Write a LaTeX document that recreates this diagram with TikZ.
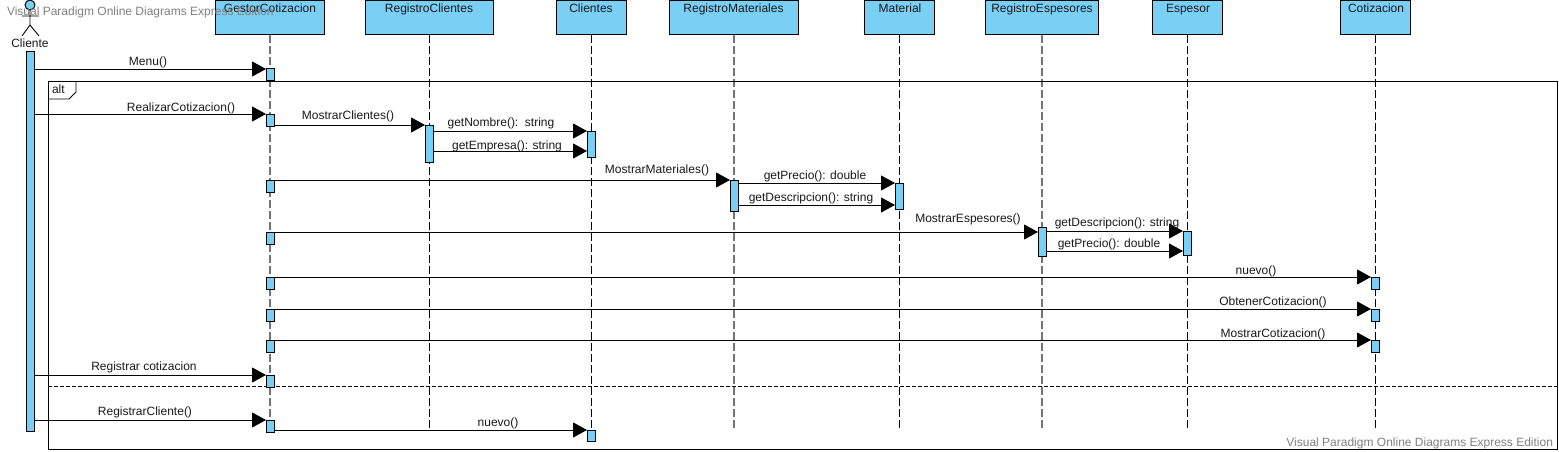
\documentclass[tikz,border=0pt]{standalone}
\usepackage{fontspec}
\setmainfont{Liberation Sans}
\usetikzlibrary{arrows.meta,calc}
\definecolor{vpblue}{RGB}{122,207,245}
\tikzset{
 x=1pt,y=-1pt,
 every node/.style={inner sep=0pt,outer sep=0pt,font=\fontsize{12}{14}\selectfont,text=black!90},
 objbox/.style={draw=black,line width=1pt,fill=vpblue,anchor=north west,minimum height=34pt},
 objlabel/.style={anchor=base},
 act/.style={draw=black,line width=1pt,fill=vpblue,minimum width=8pt,anchor=north},
 lifeline/.style={draw=black,line width=0.9pt,dash pattern=on 8pt off 3pt},
 lifelinegray/.style={draw=black!55,line width=1.6pt,dash pattern=on 8pt off 3pt},
 msg/.style={draw=black,line width=0.9pt,-{Triangle[length=14pt,width=15pt]}},
 msglabel/.style={anchor=base},
 framepath/.style={draw=black,line width=0.9pt},
 wm/.style={text=black!50},
}
\newcommand{\actv}[4]{\node[act,minimum height=#4-#3] (#1) at (#2,#3) {};}
\begin{document}
\begin{tikzpicture}
\useasboundingbox (0,0) rectangle (1559,452);
\fill[white] (0,0) rectangle (1559,452);
% objects
\node[objbox,minimum width=109pt] (gestor) at (215,1) {};
\node[objbox,minimum width=128pt] (regcli) at (365,1) {};
\node[objbox,minimum width=70pt] (cli) at (556,1) {};
\node[objbox,minimum width=129pt] (regmat) at (669,1) {};
\node[objbox,minimum width=70pt] (mat) at (864,1) {};
\node[objbox,minimum width=113pt] (regesp) at (985,1) {};
\node[objbox,minimum width=70pt] (esp) at (1152,1) {};
\node[objbox,minimum width=70pt] (cot) at (1340,1) {};
\node[objlabel] at (270,12.5) {GestorCotizacion};
\node[objlabel] at (429,12.5) {RegistroClientes};
\node[objlabel] at (591,12.5) {Clientes};
\node[objlabel] at (733.5,12.5) {RegistroMateriales};
\node[objlabel] at (900,12.5) {Material};
\node[objlabel] at (1042,12.5) {RegistroEspesores};
\node[objlabel] at (1188,12.5) {Espesor};
\node[objlabel] at (1376,12.5) {Cotizacion};
% lifelines
\coordinate (lg) at (270,429); \coordinate (lr) at (429,429); \coordinate (lc) at (591,429);
\coordinate (lm) at (734,429); \coordinate (lma) at (899,429); \coordinate (le) at (1042,429);
\coordinate (les) at (1187,429); \coordinate (lco) at (1375,429);
\draw[lifelinegray] (gestor.south -| lg) -- (lg);
\draw[lifeline] (regcli.south -| lr) -- (lr);
\draw[lifeline] (cli.south -| lc) -- (lc);
\draw[lifelinegray] (regmat.south -| lm) -- (lm);
\draw[lifeline] (mat.south -| lma) -- (lma);
\draw[lifelinegray] (regesp.south -| le) -- (le);
\draw[lifeline] (esp.south -| les) -- (les);
\draw[lifeline] (cot.south -| lco) -- (lco);
% actor
\node[circle,draw=black,fill=vpblue,line width=1pt,minimum size=10pt] (head) at (30,5) {};
\coordinate (neck) at (30,25);
\coordinate (armL) at (22,16); \coordinate (armR) at (39,16);
\coordinate (footL) at (22,36); \coordinate (footR) at (39,36);
\draw[black,line width=0.9pt] (head.south) -- (neck) (armL) -- (armR) (footL) -- (neck) -- (footR);
\node[anchor=base] (clabel) at (30,48) {Cliente};
% frame
\draw[framepath] (48,81) rectangle (1557,449);
\coordinate (fa) at (76,81); \coordinate (fb) at (76,92); \coordinate (fc) at (69,99); \coordinate (fd) at (48,99);
\draw[framepath] (fa) -- (fb) -- (fc) -- (fd);
\node[anchor=base west] at (52,94) {alt};
\draw[black,line width=0.9pt,dash pattern=on 4pt off 2pt] (48,386) -- (1559,386);
% activations
\actv{c0}{30}{52}{431}
\actv{g1}{270}{69}{81}
\actv{g2}{270}{114}{126}
\actv{g3}{270}{180}{192}
\actv{g4}{270}{232}{244}
\actv{g5}{270}{277}{289}
\actv{g6}{270}{309}{321}
\actv{g7}{270}{340}{352}
\actv{g8}{270}{375}{387}
\actv{g9}{270}{420}{432}
\actv{r1}{429}{125}{162}
\actv{c1}{591}{131}{157}
\actv{c2}{591}{430}{441}
\actv{m1}{734}{180}{211}
\actv{ma1}{899}{183}{209}
\actv{e1}{1042}{227}{256}
\actv{es1}{1187}{231}{255}
\actv{k1}{1375}{277}{289}
\actv{k2}{1375}{309}{321}
\actv{k3}{1375}{340}{352}
% messages
\draw[msg] (c0.east |- g1.north) -- (g1.north west);
\draw[msg] (c0.east |- g2.north) -- (g2.north west);
\draw[msg] (g2.east |- r1.north) -- (r1.north west);
\coordinate (y2) at (0,151);
\draw[msg] (r1.east |- c1.north) -- (c1.north west);
\draw[msg] (r1.east |- y2) -- (c1.west |- y2);
\draw[msg] (g3.north east) -- (m1.north west);
\draw[msg] (m1.east |- ma1.north) -- (ma1.north west);
\coordinate (y3) at (0,205);
\draw[msg] (m1.east |- y3) -- (ma1.west |- y3);
\coordinate (y5) at (0,251);
\draw[msg] (g4.north east) -- (e1.west |- g4.north);
\draw[msg] (e1.east |- es1.north) -- (es1.north west);
\draw[msg] (e1.east |- y5) -- (es1.west |- y5);
\draw[msg] (g5.north east) -- (k1.north west);
\draw[msg] (g6.north east) -- (k2.north west);
\draw[msg] (g7.north east) -- (k3.north west);
\draw[msg] (c0.east |- g8.north) -- (g8.north west);
\draw[msg] (c0.east |- g9.north) -- (g9.north west);
\draw[msg] (g9.east |- c2.north) -- (c2.north west);
% labels
\node[msglabel] at (148,66) {Menu()};
\node[msglabel] at (181,111) {RealizarCotizacion()};
\node[msglabel] at (348,120) {MostrarClientes()};
\node[msglabel] at (501,126) {getNombre():\ \ string};
\node[msglabel] at (507,149) {getEmpresa(): string};
\node[msglabel] at (657,173) {MostrarMateriales()};
\node[msglabel] at (815,179) {getPrecio(): double};
\node[msglabel] at (811,201) {getDescripcion(): string};
\node[msglabel] at (968,222) {MostrarEspesores()};
\node[msglabel] at (1117,226) {getDescripcion(): string};
\node[msglabel] at (1109,247) {getPrecio(): double};
\node[msglabel] at (1256,274) {nuevo()};
\node[msglabel] at (1273,305) {ObtenerCotizacion()};
\node[msglabel] at (1273,337) {MostrarCotizacion()};
\node[msglabel] at (144,370) {Registrar cotizacion};
\node[msglabel] at (145,415) {RegistrarCliente()};
\node[msglabel] at (498,426) {nuevo()};
% watermarks
\node[wm,anchor=base west] at (7,16) {Visual Paradigm Online Diagrams Express Edition};
\node[wm,anchor=base east] at (1553,446) {Visual Paradigm Online Diagrams Express Edition};
\end{tikzpicture}
\end{document}
